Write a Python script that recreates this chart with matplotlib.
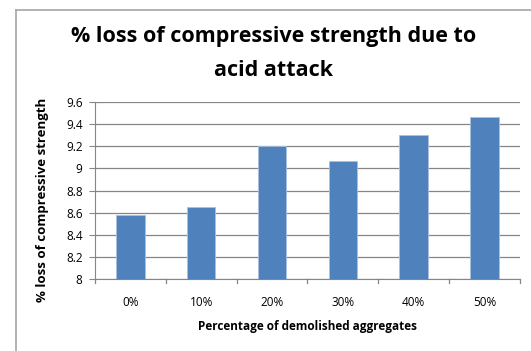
import matplotlib.pyplot as plt
from matplotlib.lines import Line2D

# % perdida de resistencia a compresion por ataque acido
categorias = ['0%', '10%', '20%', '30%', '40%', '50%']
perdida = [8.58, 8.65, 9.20, 9.07, 9.30, 9.47]
yticks = [8, 8.2, 8.4, 8.6, 8.8, 9, 9.2, 9.4, 9.6]
ylabels = ['8', '8.2', '8.4', '8.6', '8.8', '9', '9.2', '9.4', '9.6']

plt.rcParams['font.family'] = ['Open Sans', 'DejaVu Sans']

fig = plt.figure(figsize=(5.31, 3.51), dpi=100)
ax = fig.add_axes([0.179, 0.205, 0.800, 0.504])

x = list(range(len(categorias)))
ax.bar(x, [v - 8 for v in perdida], bottom=8, width=0.4, color='#4F81BD',
       edgecolor='#A9C0DE', linewidth=0.6, zorder=3)

ax.set_xlim(-0.5, 5.5)
ax.set_ylim(8, 9.6)
ax.set_yticks(yticks)
ax.set_yticklabels(ylabels, fontsize=8.5)
ax.set_xticks(x)
ax.set_xticklabels(categorias, fontsize=8.5)
ax.tick_params(axis='x', length=0, pad=12)
ax.tick_params(axis='y', length=4, color='#868686', pad=5)

# marcas de division entre categorias
for b in [i - 0.5 for i in range(7)]:
    ax.plot([b, b], [8, 8 - 0.04], color='#868686', lw=0.9, clip_on=False)

ax.grid(axis='y', color='#868686', lw=0.9, zorder=0)
for s in ['top', 'right']:
    ax.spines[s].set_visible(False)
ax.spines['left'].set_color('#868686')
ax.spines['bottom'].set_color('#868686')

ax.set_xlabel('Percentage of demolished aggregates', fontsize=8.5,
              fontweight='bold', labelpad=8)
ax.set_ylabel('% loss of compressive strength', fontsize=9.5,
              fontweight='bold', labelpad=6)
ax.yaxis.set_label_coords(-0.108, 0.45)

fig.text(0.515, 0.895, '% loss of compressive strength due to', ha='center',
         va='center', fontsize=15.5, fontweight='bold')
fig.text(0.515, 0.80, 'acid attack', ha='center', va='center',
         fontsize=15.5, fontweight='bold')

# marco del grafico
fig.add_artist(Line2D([0.031, 0.031], [0, 0.972], color='#A6A6A6', lw=1.2))
fig.add_artist(Line2D([0.031, 1.0], [0.972, 0.972], color='#A6A6A6', lw=1.2))

fig.savefig('out.png', dpi=100)
